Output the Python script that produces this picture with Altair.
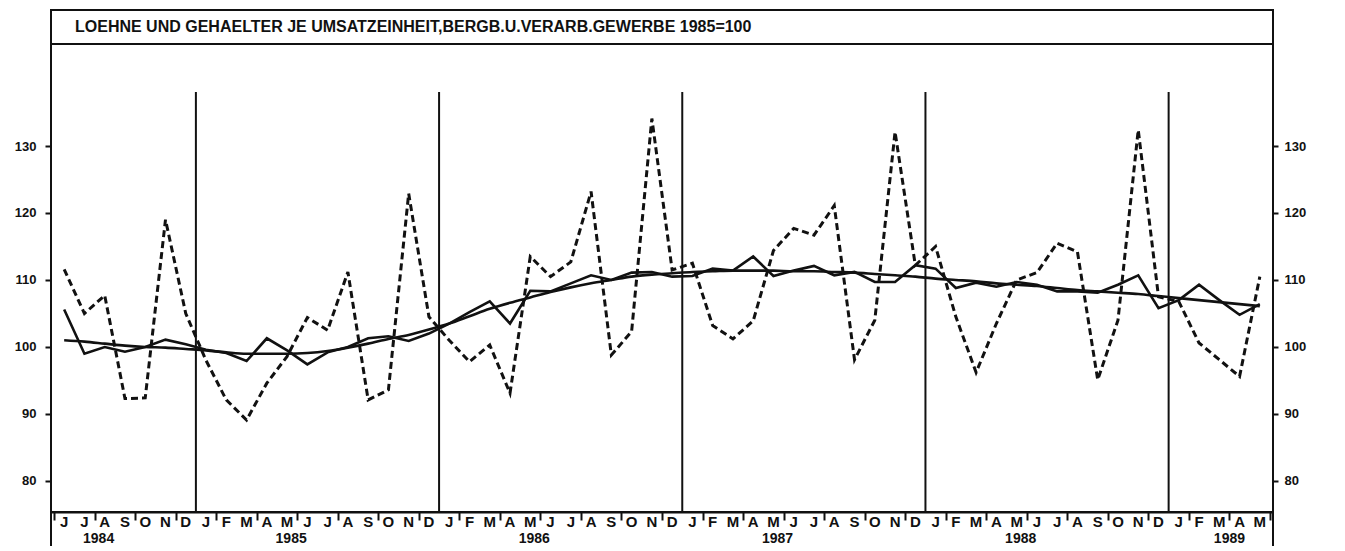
import altair as alt
import pandas as pd

# ---------------- data ----------------
month_letters = (["J", "J", "A", "S", "O", "N", "D"]
                 + ["J", "F", "M", "A", "M", "J", "J", "A", "S", "O", "N", "D"] * 4
                 + ["J", "F", "M", "A", "M"])

raw = [111.6, 105.0, 107.7, 92.3, 92.4, 119.0, 105.0,
       98.0, 92.1, 89.1, 94.6, 98.6, 104.4, 102.5, 111.2, 92.1, 93.6, 122.9, 104.5,
       101.0, 97.8, 100.3, 93.1, 113.5, 110.5, 112.7, 123.2, 98.8, 102.3, 134.1, 111.5,
       112.5, 103.2, 101.2, 103.9, 114.4, 117.7, 116.7, 121.1, 98.1, 104.0, 132.1, 112.2,
       115.0, 104.5, 96.2, 103.5, 110.0, 111.1, 115.5, 114.2, 95.1, 104.0, 132.4, 107.5,
       106.8, 100.6, 98.1, 95.6, 110.5]

adjusted = [105.6, 99.0, 100.0, 99.3, 100.0, 101.1, 100.4,
            99.6, 99.1, 97.9, 101.3, 99.5, 97.4, 99.2, 100.0, 101.3, 101.6, 100.9, 102.0,
            103.5, 105.2, 106.8, 103.5, 108.4, 108.3, 109.5, 110.7, 110.0, 111.1, 111.2, 110.5,
            110.6, 111.7, 111.4, 113.5, 110.6, 111.4, 112.1, 110.7, 111.2, 109.7, 109.7, 112.2,
            111.7, 108.8, 109.6, 109.0, 109.7, 109.3, 108.3, 108.3, 108.1, 109.3, 110.7, 105.8,
            107.0, 109.3, 107.0, 104.8, 106.4]

trend = [101.0, 100.8, 100.5, 100.2, 100.0, 99.9, 99.7,
         99.5, 99.2, 99.0, 99.0, 99.0, 99.1, 99.4, 99.9, 100.5, 101.2, 101.8, 102.6,
         103.5, 104.6, 105.7, 106.6, 107.4, 108.2, 108.9, 109.5, 110.0, 110.5, 110.8, 111.0,
         111.2, 111.3, 111.4, 111.4, 111.4, 111.3, 111.3, 111.2, 111.1, 110.9, 110.7, 110.5,
         110.2, 110.0, 109.8, 109.5, 109.3, 109.1, 108.8, 108.5, 108.3, 108.1, 107.9, 107.6,
         107.3, 107.0, 106.7, 106.4, 106.1]

years = ["1984", "1985", "1986", "1987", "1988", "1989"]
year_label_pos = [1.7, 11.2, 23.2, 35.2, 47.2, 57.5]
year_breaks = [6.5, 18.5, 30.5, 42.5, 54.5]
y_ticks = [80, 90, 100, 110, 120, 130]
title_text = "LOEHNE UND GEHAELTER JE UMSATZEINHEIT,BERGB.U.VERARB.GEWERBE 1985=100"

# ---------------- layout ----------------
W, H = 1222, 502
XDOM = [-0.65, 59.65]
YDOM = [75.37, 150.3]
FONT = "Liberation Sans, Arial, sans-serif"
INK = "#111111"

n = len(raw)
df = pd.DataFrame({"i": list(range(n)), "raw": raw, "adj": adjusted, "trend": trend,
                   "m": month_letters})
breaks_df = pd.DataFrame({"b": year_breaks})
years_df = pd.DataFrame({"year": years, "pos": year_label_pos})
one = pd.DataFrame({"t": [title_text]})


def xs():
    return alt.Scale(domain=XDOM, nice=False, zero=False)


def ys():
    return alt.Scale(domain=YDOM, nice=False, zero=False)


# month separators: ticks at the month boundaries, letters drawn as text below
x_axis = alt.Axis(values=[k - 0.5 for k in range(n + 1)], labels=False,
                  tickSize=8, tickWidth=2, tickColor=INK, domainColor=INK, domainWidth=2,
                  grid=False, title=None)

left_axis = alt.Axis(values=y_ticks, orient="left", tickSize=6, tickWidth=2, tickColor=INK,
                     domain=False, grid=False, title=None, labelPadding=9, labelFontSize=13,
                     labelFontWeight="bold", labelFont=FONT, labelColor=INK)
right_axis = alt.Axis(values=y_ticks, orient="right", tickSize=5, tickWidth=2, tickColor=INK,
                      domain=False, grid=False, title=None, labelPadding=6, labelFontSize=13,
                      labelFontWeight="bold", labelFont=FONT, labelColor=INK)

base = alt.Chart(df)

raw_line = base.mark_line(color=INK, strokeWidth=3, strokeDash=[7, 4]).encode(
    x=alt.X("i:Q", scale=xs(), axis=x_axis),
    y=alt.Y("raw:Q", scale=ys(), axis=left_axis))

year_rules = alt.Chart(breaks_df).mark_rule(color=INK, strokeWidth=2).encode(
    x=alt.X("b:Q", scale=xs()),
    y=alt.value(82), y2=alt.value(H))

adj_line = base.mark_line(color=INK, strokeWidth=2.6).encode(
    x=alt.X("i:Q", scale=xs()),
    y=alt.Y("adj:Q", scale=ys(), axis=None))

trend_line = base.mark_line(color=INK, strokeWidth=2.6, interpolate="monotone").encode(
    x=alt.X("i:Q", scale=xs()),
    y=alt.Y("trend:Q", scale=ys(), axis=right_axis))

month_text = base.mark_text(align="center", baseline="top", font=FONT, fontWeight="bold",
                            fontSize=15, color=INK).encode(
    x=alt.X("i:Q", scale=xs()), y=alt.value(H + 3), text="m:N")

title_band = alt.Chart(one).mark_rule(color=INK, strokeWidth=2).encode(
    x=alt.value(0), x2=alt.value(W), y=alt.value(34))

title_mark = alt.Chart(one).mark_text(align="left", baseline="middle", font=FONT,
                                      fontWeight="bold", fontSize=16, color=INK).encode(
    x=alt.value(24), y=alt.value(17), text="t:N")

year_text = alt.Chart(years_df).mark_text(align="center", baseline="alphabetic", font=FONT,
                                          fontWeight="bold", fontSize=14, color=INK).encode(
    x=alt.X("pos:Q", scale=xs()), y=alt.value(H + 31), text="year:N")

frame_left = alt.Chart(one).mark_rule(color=INK, strokeWidth=2).encode(
    x=alt.value(0), y=alt.value(H), y2=alt.value(H + 34))
frame_right = alt.Chart(one).mark_rule(color=INK, strokeWidth=2).encode(
    x=alt.value(W), y=alt.value(H), y2=alt.value(H + 34))

chart = alt.layer(raw_line, year_rules, adj_line, trend_line, month_text, title_band,
                  title_mark, year_text, frame_left, frame_right).resolve_scale(
    y="independent").properties(
    width=W, height=H,
    autosize=alt.AutoSizeParams(type="none"),
    padding={"left": 43, "top": 2, "right": 45, "bottom": 34},
    background="white",
).configure_view(stroke=INK, strokeWidth=2)

chart.save("out.html", embed_options={"renderer": "svg", "actions": False})
